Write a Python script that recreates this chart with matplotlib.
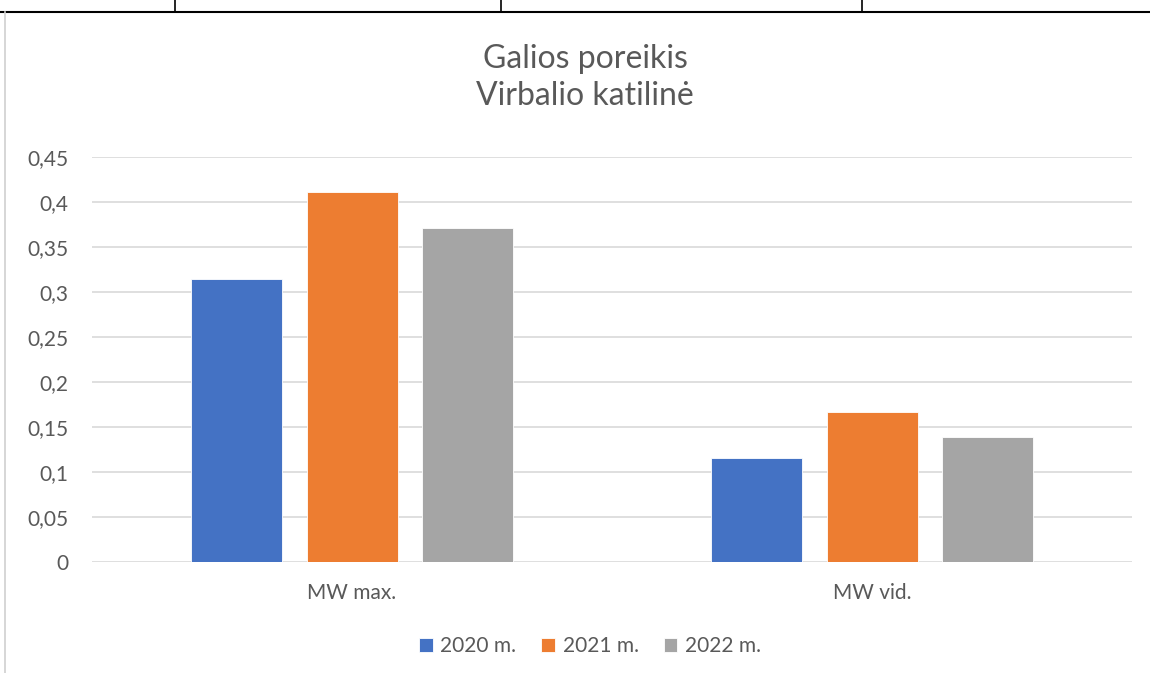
import matplotlib.pyplot as plt
import numpy as np
from matplotlib.lines import Line2D

# duomenys
kategorijos = ["MW max.", "MW vid."]
metai = ["2020 m.", "2021 m.", "2022 m."]
v2020 = [0.314, 0.116]
v2021 = [0.411, 0.167]
v2022 = [0.371, 0.139]
spalvos = ["#4472C4", "#ED7D31", "#A5A5A5"]
y_ticks = [0, 0.05, 0.1, 0.15, 0.2, 0.25, 0.3, 0.35, 0.4, 0.45]

plt.rcParams['font.family'] = ['Lato', 'DejaVu Sans']
pilka = "#595959"

fig = plt.figure(figsize=(11.5, 6.73), dpi=100)
ax = fig.add_axes([92/1150, 111/673, 1040/1150, 405/673])

x = np.arange(len(kategorijos))
plotis = 0.175
zingsnis = 0.222
for i, (reiksmes, vardas) in enumerate(zip([v2020, v2021, v2022], metai)):
    ax.bar(x + (i - 1) * zingsnis, reiksmes, plotis, color=spalvos[i],
           edgecolor="white", linewidth=0.6, label=vardas, zorder=3)

ax.set_xlim(-0.5, 1.5)
ax.set_ylim(0, 0.45)
ax.set_yticks(y_ticks)
ax.set_yticklabels([("%g" % t).replace(".", ",") for t in y_ticks])
ax.set_xticks(x)
ax.set_xticklabels(kategorijos)
ax.tick_params(axis='both', length=0, labelsize=15, colors=pilka)
ax.tick_params(axis='y', pad=17)
ax.tick_params(axis='x', pad=15)
ax.grid(axis='y', color="#D9D9D9", linewidth=1.2, zorder=0)
for s in ax.spines.values():
    s.set_visible(False)

fig.text(585/1150, 1 - 68/673, "Galios poreikis", ha='center', va='baseline', fontsize=23, color=pilka)
fig.text(585/1150, 1 - 105/673, "Virbalio katilinė", ha='center', va='baseline', fontsize=23, color=pilka)

leg = fig.legend(loc='center', bbox_to_anchor=(590/1150, 1 - 646/673), ncol=3, frameon=False,
                 fontsize=15, handlelength=0.67, handleheight=0.67, handletextpad=0.34,
                 columnspacing=1.2)
for t in leg.get_texts():
    t.set_color(pilka)

# lentelės linijos viršuje
fig.add_artist(Line2D([0, 1], [1 - 12/673, 1 - 12/673], color="black", linewidth=1.5))
for xx in [175, 501, 862]:
    fig.add_artist(Line2D([xx/1150, xx/1150], [1 - 12/673, 1], color="black", linewidth=1.2))
fig.add_artist(Line2D([4.5/1150, 4.5/1150], [0, 1 - 12/673], color="#D0D0D0", linewidth=1.2))

fig.savefig("out.png", dpi=100)
